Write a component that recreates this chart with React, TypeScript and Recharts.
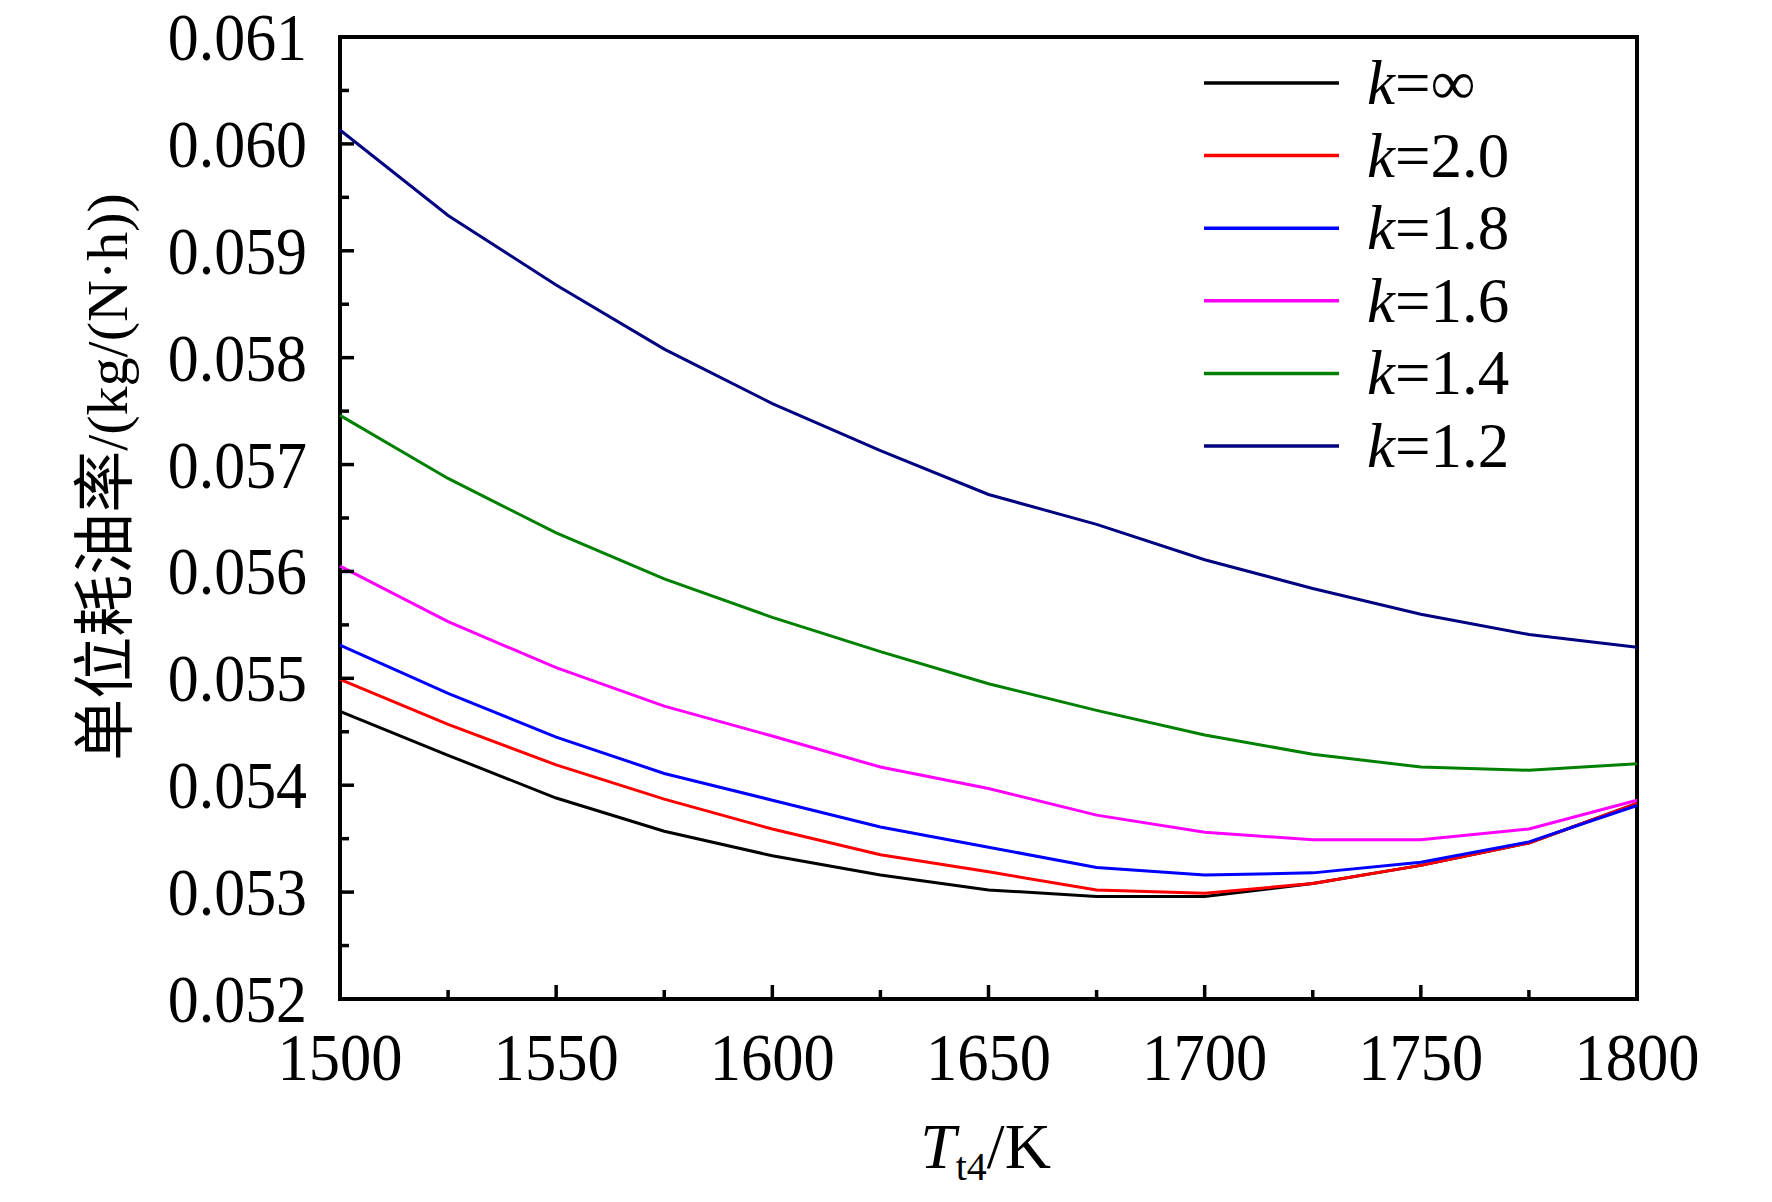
import { LineChart, Line, XAxis, YAxis, Legend, ReferenceArea } from 'recharts';

// T_t4 (K)
const temps = [1500, 1525, 1550, 1575, 1600, 1625, 1650, 1675, 1700, 1725, 1750, 1775, 1800];

// specific fuel consumption kg/(N·h) for each k
const kInf = [0.05469, 0.05428, 0.05388, 0.05357, 0.05334, 0.05316, 0.05302, 0.05296, 0.05296, 0.05308, 0.05325, 0.05346, 0.05383];
const k20 = [0.05499, 0.05457, 0.05419, 0.05387, 0.05359, 0.05335, 0.05319, 0.05302, 0.05299, 0.05308, 0.05325, 0.05346, 0.05383];
const k18 = [0.05531, 0.05486, 0.05445, 0.05411, 0.05386, 0.05361, 0.05342, 0.05323, 0.05316, 0.05318, 0.05328, 0.05347, 0.05381];
const k16 = [0.05605, 0.05553, 0.0551, 0.05474, 0.05446, 0.05417, 0.05397, 0.05372, 0.05356, 0.05349, 0.05349, 0.05359, 0.05386];
const k14 = [0.05746, 0.05687, 0.05636, 0.05593, 0.05557, 0.05525, 0.05495, 0.0547, 0.05447, 0.05429, 0.05417, 0.05414, 0.0542];
const k12 = [0.06013, 0.05933, 0.05868, 0.05808, 0.05757, 0.05713, 0.05672, 0.05644, 0.05611, 0.05584, 0.0556, 0.05541, 0.05529];

const xTicks = [1500, 1525, 1550, 1575, 1600, 1625, 1650, 1675, 1700, 1725, 1750, 1775, 1800];
const yTicks = [0.052, 0.0525, 0.053, 0.0535, 0.054, 0.0545, 0.055, 0.0555, 0.056, 0.0565, 0.057, 0.0575, 0.058, 0.0585, 0.059, 0.0595, 0.06, 0.0605, 0.061];

const series = [
  { key: 'kInf', name: 'k=∞', color: '#000000', values: kInf },
  { key: 'k20', name: 'k=2.0', color: '#ff0000', values: k20 },
  { key: 'k18', name: 'k=1.8', color: '#0000ff', values: k18 },
  { key: 'k16', name: 'k=1.6', color: '#ff00ff', values: k16 },
  { key: 'k14', name: 'k=1.4', color: '#008000', values: k14 },
  { key: 'k12', name: 'k=1.2', color: '#000080', values: k12 },
];

const data = temps.map((t, i) => {
  const row: any = { t };
  series.forEach(s => { row[s.key] = s.values[i]; });
  return row;
});

const serif = '"Liberation Serif", "Times New Roman", serif';

function YTick({ x, y, payload }: any) {
  const v = payload.value;
  const major = Math.abs(v * 1000 - Math.round(v * 1000)) < 1e-6;
  return (
    <g>
      <line x1={x} y1={y} x2={x + (major ? 14 : 9)} y2={y} stroke="#000" strokeWidth={3.5} />
      {major && (
        <text transform={`translate(${x - 33},${y + 23}) scale(0.91,1)`} textAnchor="end" fontFamily={serif} fontSize={68} fill="#000">
          {v.toFixed(3)}
        </text>
      )}
    </g>
  );
}

function XTick({ x, y, payload }: any) {
  const v = payload.value;
  const major = v % 50 === 0;
  return (
    <g>
      <line x1={x} y1={y} x2={x} y2={y - (major ? 14 : 9)} stroke="#000" strokeWidth={3.5} />
      {major && (
        <text transform={`translate(${x},${y + 81}) scale(0.92,1)`} textAnchor="middle" fontFamily={serif} fontSize={68} fill="#000">
          {v}
        </text>
      )}
    </g>
  );
}

// legend follows the series order (k=∞ on top)
function LegendBox() {
  return (
    <svg width={340} height={450} style={{ display: 'block' }}>
      {series.map((s, i) => {
        const cy = 36 + i * 72.6;
        return (
          <g key={s.key}>
            <line x1={0} y1={cy} x2={135} y2={cy} stroke={s.color} strokeWidth={3.5} />
            <text x={163} y={cy + 21} fontFamily={serif} fontSize={63} fill="#000">
              <tspan fontStyle="italic">k</tspan>
              {s.name.slice(1)}
            </text>
          </g>
        );
      })}
    </svg>
  );
}

function XTitle({ viewBox }: any) {
  const cx = viewBox.x + viewBox.width / 2 - 3;
  return (
    <text x={cx} y={1168} textAnchor="middle" fontFamily={serif} fontSize={64} fill="#000">
      <tspan fontStyle="italic">T</tspan>
      <tspan fontSize={40} dy={12}>t4</tspan>
      <tspan dy={-12}>/K</tspan>
    </text>
  );
}

function YTitle({ viewBox }: any) {
  const cy = viewBox.y + viewBox.height / 2 - 41;
  return (
    <text transform={`translate(127,${cy}) rotate(-90)`} textAnchor="middle" fill="#000">
      <tspan fontFamily='"Noto Sans CJK SC", sans-serif' fontSize={62}>单位耗油率</tspan>
      <tspan fontFamily={serif} fontSize={58}>/(kg/(N·h))</tspan>
    </text>
  );
}

export default function App() {
  return (
    <div style={{ position: 'absolute', left: 0, top: 0, width: 1772, height: 1202, background: '#fff' }}>
      <LineChart width={1772} height={1202} data={data} margin={{ top: 37, right: 135, bottom: 0, left: 0 }}>
        <XAxis
          dataKey="t"
          type="number"
          domain={[1500, 1800]}
          ticks={xTicks}
          interval={0}
          height={203}
          axisLine={false}
          tickLine={false}
          tickSize={0}
          tickMargin={0}
          tick={<XTick />}
          label={<XTitle />}
        />
        <YAxis
          type="number"
          domain={[0.052, 0.061]}
          ticks={yTicks}
          interval={0}
          width={340}
          axisLine={false}
          tickLine={false}
          tickSize={0}
          tickMargin={0}
          tick={<YTick />}
          label={<YTitle />}
        />
        <Legend
          layout="vertical"
          align="center"
          verticalAlign="middle"
          wrapperStyle={{ left: 1204, top: 47, width: 340, height: 450 }}
          content={<LegendBox />}
        />
        {series.map(s => (
          <Line
            key={s.key}
            type="linear"
            dataKey={s.key}
            name={s.name}
            stroke={s.color}
            strokeWidth={3}
            dot={false}
            activeDot={false}
            isAnimationActive={false}
          />
        ))}
        <ReferenceArea x1={1500} x2={1800} y1={0.052} y2={0.061} fill="none" stroke="#000" strokeWidth={4} ifOverflow="visible" />
      </LineChart>
    </div>
  );
}
